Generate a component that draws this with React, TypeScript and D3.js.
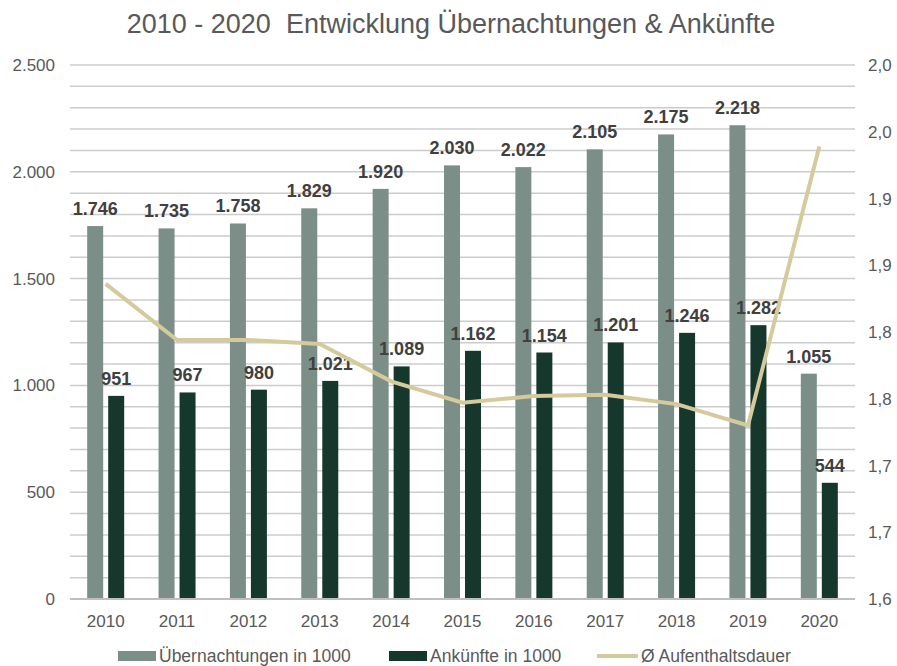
import React from "react";
import * as d3 from "d3";

const years = ["2010", "2011", "2012", "2013", "2014", "2015", "2016", "2017", "2018", "2019", "2020"];
const overnights = [1746, 1735, 1758, 1829, 1920, 2030, 2022, 2105, 2175, 2218, 1055];
const arrivals = [951, 967, 980, 1021, 1089, 1162, 1154, 1201, 1246, 1282, 544];
const stayLength = [1.836, 1.794, 1.794, 1.791, 1.763, 1.747, 1.752, 1.753, 1.746, 1.73, 1.939];
const leftTicks = [0, 500, 1000, 1500, 2000, 2500];
const rightTicks = [1.6, 1.65, 1.7, 1.75, 1.8, 1.85, 1.9, 1.95, 2.0];
const legendItems = ["Übernachtungen in 1000", "Ankünfte in 1000", "Ø Aufenthaltsdauer"];

const W = 897, H = 666;
const margin = { left: 70, right: 42, top: 65, bottom: 67 };
const colors = { over: "#7b8f88", arr: "#16382c", line: "#d5ca9c", text: "#595959", grid: "#cccccc" };
const font = "'Liberation Sans', Arial, sans-serif";

const fmtLeft = (v: number) => d3.format(",")(v).replace(/,/g, ".");
const fmtRight = (v: number) => (Math.round(v * 10 + 1e-6) / 10).toFixed(1).replace(".", ",");

const Chart = () => {
  const ref = React.useRef<SVGSVGElement>(null);

  React.useEffect(() => {
    const svg = d3.select(ref.current);
    svg.selectAll("*").remove();
    const innerW = W - margin.left - margin.right;
    const innerH = H - margin.top - margin.bottom;
    const x = d3.scaleBand(years, [margin.left, margin.left + innerW]);
    const y = d3.scaleLinear([0, 2500], [margin.top + innerH, margin.top]);
    const yR = d3.scaleLinear([1.6, 2.0], [margin.top + innerH, margin.top]);
    const barW = 16, gap = 5;

    // title
    svg.append("text").attr("x", 451).attr("y", 33).attr("text-anchor", "middle")
      .attr("font-size", 27).attr("fill", colors.text).attr("font-family", font)
      .style("white-space", "pre")
      .text("2010 - 2020  Entwicklung Übernachtungen & Ankünfte");

    // gridlines every 100
    svg.append("g").selectAll("line").data(d3.range(100, 2501, 100)).join("line")
      .attr("x1", margin.left).attr("x2", margin.left + innerW)
      .attr("y1", d => y(d)).attr("y2", d => y(d))
      .attr("stroke", colors.grid).attr("stroke-width", 1.5);

    // left axis labels
    svg.append("g").selectAll("text").data(leftTicks).join("text")
      .attr("x", 55).attr("y", d => y(d) + 6).attr("text-anchor", "end")
      .attr("font-size", 17).attr("fill", colors.text).attr("font-family", font)
      .text(d => fmtLeft(d));

    // right axis labels
    svg.append("g").selectAll("text").data(rightTicks).join("text")
      .attr("x", 868).attr("y", d => yR(d) + 6).attr("text-anchor", "start")
      .attr("font-size", 17).attr("fill", colors.text).attr("font-family", font)
      .text(d => fmtRight(d));

    // bars
    const groups = svg.append("g").selectAll("g").data(years).join("g");
    groups.append("rect")
      .attr("x", d => x(d)! + x.bandwidth() / 2 - gap / 2 - barW)
      .attr("y", (d, i) => y(overnights[i]))
      .attr("width", barW).attr("height", (d, i) => y(0) - y(overnights[i]))
      .attr("fill", colors.over);
    groups.append("rect")
      .attr("x", d => x(d)! + x.bandwidth() / 2 + gap / 2)
      .attr("y", (d, i) => y(arrivals[i]))
      .attr("width", barW).attr("height", (d, i) => y(0) - y(arrivals[i]))
      .attr("fill", colors.arr);

    // x axis line
    svg.append("line").attr("x1", margin.left).attr("x2", margin.left + innerW)
      .attr("y1", y(0)).attr("y2", y(0)).attr("stroke", "#bfbfbf").attr("stroke-width", 2);

    // x labels
    svg.append("g").selectAll("text").data(years).join("text")
      .attr("x", d => x(d)! + x.bandwidth() / 2).attr("y", y(0) + 28).attr("text-anchor", "middle")
      .attr("font-size", 17).attr("fill", colors.text).attr("font-family", font)
      .text(d => d);

    // line
    const line = d3.line<number>()
      .x((d, i) => x(years[i])! + x.bandwidth() / 2)
      .y(d => yR(d));
    svg.append("path").datum(stayLength).attr("d", line)
      .attr("fill", "none").attr("stroke", colors.line).attr("stroke-width", 4)
      .attr("stroke-linejoin", "miter");

    // value labels
    groups.append("text")
      .attr("x", d => x(d)! + x.bandwidth() / 2 - gap / 2 - barW / 2)
      .attr("y", (d, i) => y(overnights[i]) - 11).attr("text-anchor", "middle")
      .attr("font-size", 18).attr("font-weight", "bold").attr("fill", "#404040").attr("font-family", font)
      .text((d, i) => fmtLeft(overnights[i]));
    groups.append("text")
      .attr("x", d => x(d)! + x.bandwidth() / 2 + gap / 2 + barW / 2)
      .attr("y", (d, i) => y(arrivals[i]) - 11).attr("text-anchor", "middle")
      .attr("font-size", 18).attr("font-weight", "bold").attr("fill", "#404040").attr("font-family", font)
      .text((d, i) => fmtLeft(arrivals[i]));

    // legend
    const legX = [118, 389, 597];
    const lg = svg.append("g").selectAll("g").data(legendItems).join("g")
      .attr("transform", (d, i) => `translate(${legX[i]},656)`);
    lg.filter((d, i) => i < 2).append("rect")
      .attr("x", 0).attr("y", -5).attr("width", 38).attr("height", 10)
      .attr("fill", (d, i) => (i === 0 ? colors.over : colors.arr));
    lg.filter((d, i) => i === 2).append("line")
      .attr("x1", 0).attr("x2", 41).attr("y1", 0).attr("y2", 0)
      .attr("stroke", colors.line).attr("stroke-width", 4);
    lg.append("text")
      .attr("x", (d, i) => (i === 2 ? 44 : 41)).attr("y", 5.5)
      .attr("font-size", 17.5).attr("fill", colors.text).attr("font-family", font)
      .text(d => d);
  }, []);

  return <svg ref={ref} width={W} height={H} style={{ position: "absolute", left: 0, top: 0, background: "#fff" }} />;
};

export default function App() {
  return <Chart />;
}
